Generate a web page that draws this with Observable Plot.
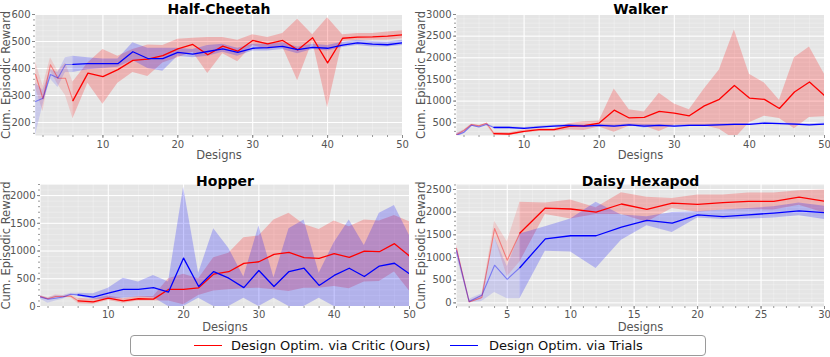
<!DOCTYPE html>
<html><head><meta charset="utf-8">
<script src="https://cdn.jsdelivr.net/npm/d3@7"></script>
<script src="https://cdn.jsdelivr.net/npm/@observablehq/plot@0.6"></script>
<style>
body{margin:0;background:#fff;font-family:"DejaVu Sans",sans-serif;}
#wrap{position:relative;width:830px;height:357px;overflow:hidden;background:#fff;}
.panel{position:absolute;}
#legend{position:absolute;left:130px;top:335px;width:574px;height:19px;border:1px solid #9a9a9a;border-radius:4px;background:#fff;font-size:13px;color:#111;}
#legend .sw{position:absolute;top:9px;width:28px;height:0;border-top:1.4px solid;}
#legend .lb{position:absolute;top:1px;line-height:17px;white-space:nowrap;}
</style></head><body>
<div id="wrap"><div id="legend"></div></div>
<script>
// ---------------- data ----------------
const seriesNames = ["Design Optim. via Critic (Ours)", "Design Optim. via Trials"];

const hcDesigns = [1,2,3,4,5,6,8,10,12,14,16,18,20,22,24,26,28,30,32,34,36,38,40,42,44,46,48,50];
const hcCritic   = [378,288,414,364,364,281,383,370,396,430,435,448,473,489,451,483,464,504,491,504,469,514,421,512,516,517,520,525];
const hcCriticLo = [330,240,390,340,300,214,345,268,345,385,370,420,440,460,382,455,425,485,470,480,355,500,255,500,505,505,505,510];
const hcCriticHi = [425,335,440,390,420,350,420,470,445,470,487,485,508,512,515,515,505,525,515,530,582,525,588,525,530,530,535,540];
const hcTrials   = [278,290,378,365,415,415,418,418,418,462,437,437,460,453,463,473,460,475,477,482,470,478,475,487,495,490,488,495];
const hcTrialsLo = [152,265,360,330,385,385,395,400,405,430,400,390,445,440,445,460,445,465,465,470,455,470,465,478,485,480,480,485];
const hcTrialsHi = [345,320,395,385,440,445,440,435,435,495,475,475,475,470,485,490,475,490,490,495,480,490,485,497,505,500,498,505];

const wkDesigns = [1,2,3,4,5,6,8,10,12,14,16,18,20,22,24,26,28,30,32,34,36,38,40,42,44,46,48,50];
const wkCritic   = [223,323,460,430,490,246,240,300,340,340,415,430,492,790,610,625,760,720,660,890,1040,1360,1070,1040,830,1210,1440,1130];
const wkCriticLo = [200,270,420,390,440,205,205,260,300,300,330,320,400,280,420,420,300,450,440,430,350,120,500,650,600,360,620,640];
const wkCriticHi = [250,340,470,440,480,280,270,330,360,360,480,520,540,1280,800,750,1180,930,800,1280,1720,2640,1620,1420,1020,2000,2250,1620];
const wkTrials   = [210,280,440,400,460,390,390,370,400,420,440,420,440,420,450,420,440,420,440,440,450,460,460,490,480,470,450,470];
const wkTrialsLo = [170,240,420,380,440,370,370,350,380,400,420,400,420,400,430,380,420,400,420,420,430,440,440,470,460,450,430,450];
const wkTrialsHi = [250,320,460,420,480,410,410,390,420,440,460,440,460,440,470,460,460,440,460,460,470,480,480,510,500,490,470,500];

const hpDesigns = [1,2,3,4,5,6,8,10,12,14,16,18,20,22,24,26,28,30,32,34,36,38,40,42,44,46,48,50];
const hpCritic   = [181,140,180,180,190,102,84,151,100,140,133,307,310,337,584,627,777,807,940,976,880,867,952,885,1000,988,1133,910];
const hpCriticLo = [150,120,150,160,160,50,40,110,60,100,100,100,30,200,280,300,320,330,300,270,330,330,360,320,440,450,620,280];
const hpCriticHi = [200,160,210,200,210,150,130,190,140,180,180,500,580,500,880,960,1240,1270,1560,1680,1480,1390,1540,1440,1560,1540,1640,1530];
const hpTrials   = [170,130,150,170,220,210,169,240,310,310,340,260,873,360,630,510,340,650,360,630,690,380,560,690,540,730,780,590];
const hpTrialsLo = [130,60,100,130,200,180,130,130,150,170,160,0,0,150,0,0,150,0,150,0,0,150,0,0,0,0,0,0];
const hpTrialsHi = [200,150,200,200,240,240,230,330,510,440,560,440,2150,600,1400,1050,530,1450,520,1400,1560,600,1150,1560,1100,1680,1820,1280];

const dyDesigns = [1,2,3,4,5,6,8,10,12,14,16,18,20,22,24,26,28,30];
const dyCritic   = [1200,20,120,1640,940,1540,2090,2070,2000,2180,2060,2200,2170,2210,2240,2240,2330,2240];
const dyCriticLo = [1100,0,80,1450,580,900,1950,1850,1950,1950,1780,2080,2000,2050,2060,2050,2150,1980];
const dyCriticHi = [1300,40,170,1800,1350,2220,2200,2270,2100,2430,2330,2300,2380,2380,2420,2420,2470,2490];
const dyTrials   = [1150,30,170,830,520,780,1410,1480,1480,1670,1820,1760,1940,1900,1940,1980,2030,1990];
const dyTrialsLo = [1050,0,30,230,90,90,1140,1120,760,1380,1700,1550,1870,1840,1850,1870,1920,1840];
const dyTrialsHi = [1250,80,200,1450,800,1520,1680,1850,2220,1940,1900,1990,2010,2050,2080,2120,2200,2130];

const xTicks50 = [10,20,30,40,50];
const xTicks30 = [5,10,15,20,25,30];
const hcYTicks = [200,300,400,500,600];
const wkYTicks = [500,1000,1500,2000,2500,3000];
const hpYTicks = [0,500,1000,1500,2000];
const dyYTicks = [0,500,1000,1500,2000,2500];
const titles = ["Half-Cheetah","Walker","Hopper","Daisy Hexapod"];
const xLabel = "Designs";
const yLabel = "Cum. Episodic Reward";
const initialDesigns = 6;

// ---------------- drawing ----------------
const colors = ["#ff0000","#0000ff"];

function rowsFor(designs, c, cLo, cHi, t, tLo, tHi) {
  const rows = [];
  designs.forEach((d, i) => rows.push({x: d, y: c[i], lo: cLo[i], hi: cHi[i], s: seriesNames[0]}));
  designs.forEach((d, i) => rows.push({x: d, y: t[i], lo: tLo[i], hi: tHi[i], s: seriesNames[1]}));
  return rows;
}

function panel(cfg) {
  const rows = cfg.rows;
  const early = rows.filter(r => r.x <= initialDesigns);
  const main = rows.filter(r => r.x >= initialDesigns);
  const [x0, x1] = cfg.xDomain, [y0, y1] = cfg.yDomain;
  const xStep = cfg.xTicks[1] - cfg.xTicks[0];
  const yStep = cfg.yTicks[1] - cfg.yTicks[0];
  const xMinor = d3.range(Math.ceil(x0 / (xStep/5)) * (xStep/5), x1 + 1e-9, xStep/5).filter(v => v >= x0);
  const yMinor = d3.range(Math.ceil(y0 / (yStep/5)) * (yStep/5), y1 + 1e-9, yStep/5).filter(v => v >= y0);
  const fmt = d => String(d);
  const p = Plot.plot({
    width: 415, height: 165,
    marginTop: cfg.m[0], marginRight: cfg.m[1], marginBottom: cfg.m[2], marginLeft: cfg.m[3],
    style: {fontFamily: "DejaVu Sans, sans-serif", fontSize: "10px", background: "transparent", overflow: "visible"},
    x: {domain: cfg.xDomain},
    y: {domain: cfg.yDomain},
    color: {domain: seriesNames, range: colors},
    marks: [
      Plot.frame({fill: "#e5e5e5", stroke: null}),
      Plot.gridX(xMinor, {stroke: "#ffffff", strokeOpacity: 0.45, strokeWidth: 0.6}),
      Plot.gridY(yMinor, {stroke: "#ffffff", strokeOpacity: 0.45, strokeWidth: 0.6}),
      Plot.gridX(cfg.xTicks, {stroke: "#ffffff", strokeOpacity: 1, strokeWidth: 1}),
      Plot.gridY(cfg.yTicks, {stroke: "#ffffff", strokeOpacity: 1, strokeWidth: 1}),
      Plot.areaY(early, {x: "x", y1: "lo", y2: "hi", z: "s", fill: "s", fillOpacity: 0.12, clip: true}),
      Plot.areaY(main, {x: "x", y1: "lo", y2: "hi", z: "s", fill: "s", fillOpacity: 0.22, clip: true}),
      Plot.line(early, {x: "x", y: "y", z: "s", stroke: "s", strokeOpacity: 0.4, strokeWidth: 1.1, clip: true}),
      Plot.line(main, {x: "x", y: "y", z: "s", stroke: "s", strokeWidth: 1.3, clip: true}),
      Plot.axisX(xMinor, {tickSize: 2, tickFormat: () => "", stroke: "#999", label: null}),
      Plot.axisY(yMinor, {tickSize: 2, tickFormat: () => "", stroke: "#999", label: null}),
      Plot.axisX(cfg.xTicks, {tickSize: 3, tickPadding: cfg.xPad, tickFormat: fmt, stroke: "#888", fill: "#555", label: null}),
      Plot.axisY(cfg.yTicks, {tickSize: 3, tickPadding: 2, tickFormat: fmt, stroke: "#888", fill: "#555", label: null}),
      Plot.text([cfg.title], {text: d => d, frameAnchor: "top", lineAnchor: "bottom", dy: cfg.titleDy, fontWeight: "bold", fontSize: 14, fill: "#000"}),
      Plot.text([xLabel], {text: d => d, frameAnchor: "bottom", lineAnchor: "middle", dy: cfg.xLabDy, fontSize: 11.5, fill: "#555"}),
      Plot.text([yLabel], {text: d => d, frameAnchor: "left", textAnchor: "middle", lineAnchor: "middle", dx: -cfg.yLabDx, rotate: -90, fontSize: 11.5, fill: "#555"})
    ]
  });
  const div = document.createElement("div");
  div.className = "panel";
  div.style.left = cfg.left + "px";
  div.style.top = cfg.top + "px";
  div.appendChild(p);
  document.getElementById("wrap").insertBefore(div, document.getElementById("legend"));
}

panel({title: titles[0], left: 0, top: 0, m: [14, 13, 30, 35], titleDy: -1, xLabDy: 20, yLabDx: 29, xPad: 2,
  xDomain: [1, 50], yDomain: [152, 600], xTicks: xTicks50, yTicks: hcYTicks,
  rows: rowsFor(hcDesigns, hcCritic, hcCriticLo, hcCriticHi, hcTrials, hcTrialsLo, hcTrialsHi)});
panel({title: titles[1], left: 415, top: 0, m: [14, 6, 30, 41], titleDy: -1, xLabDy: 20, yLabDx: 35, xPad: 2,
  xDomain: [1, 50], yDomain: [205, 3000], xTicks: xTicks50, yTicks: wkYTicks,
  rows: rowsFor(wkDesigns, wkCritic, wkCriticLo, wkCriticHi, wkTrials, wkTrialsLo, wkTrialsHi)});
panel({title: titles[2], left: 0, top: 165, m: [19, 6, 24, 40], titleDy: 1, xLabDy: 21, yLabDx: 34, xPad: 1,
  xDomain: [1, 50], yDomain: [0, 2200], xTicks: xTicks50, yTicks: hpYTicks,
  rows: rowsFor(hpDesigns, hpCritic, hpCriticLo, hpCriticHi, hpTrials, hpTrialsLo, hpTrialsHi)});
panel({title: titles[3], left: 415, top: 165, m: [19, 6, 24, 41], titleDy: 1, xLabDy: 21, yLabDx: 35, xPad: 1,
  xDomain: [1, 30], yDomain: [-80, 2610], xTicks: xTicks30, yTicks: dyYTicks,
  rows: rowsFor(dyDesigns, dyCritic, dyCriticLo, dyCriticHi, dyTrials, dyTrialsLo, dyTrialsHi)});

// legend
const lg = document.getElementById("legend");
const swX = [63, 319], lbX = [100, 358];
seriesNames.forEach((name, i) => {
  const sw = document.createElement("div");
  sw.className = "sw"; sw.style.left = swX[i] + "px"; sw.style.borderTopColor = colors[i];
  const lb = document.createElement("div");
  lb.className = "lb"; lb.style.left = lbX[i] + "px"; lb.textContent = name;
  lg.appendChild(sw); lg.appendChild(lb);
});
</script>
</body></html>
